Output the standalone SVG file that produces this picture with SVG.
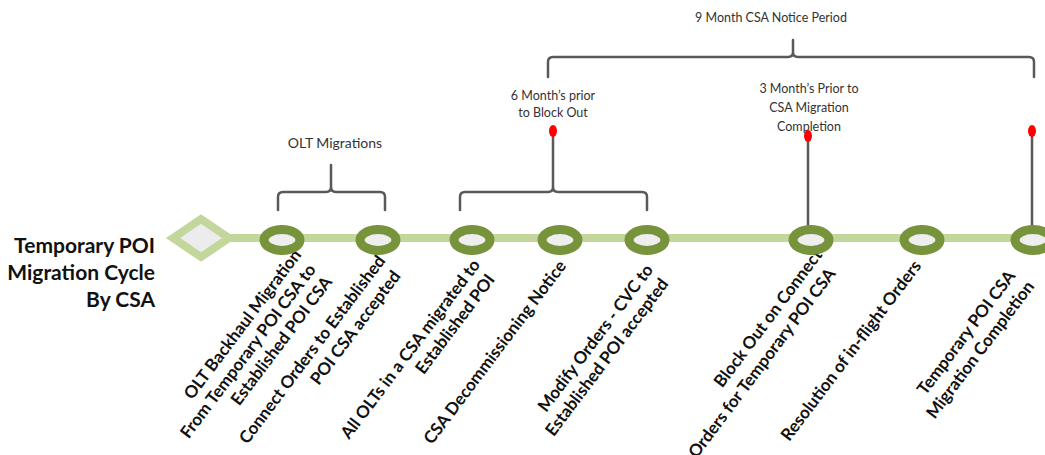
<svg xmlns="http://www.w3.org/2000/svg" width="1045" height="455" viewBox="0 0 1045 455">
<style>
.lbl{font-family:Lato,"Liberation Sans",sans-serif;font-weight:bold;font-size:17px;fill:#111;text-anchor:end}
.title{font-family:Lato,"Liberation Sans",sans-serif;font-weight:bold;font-size:21px;fill:#111;text-anchor:end}
.note{font-family:Lato,"Liberation Sans",sans-serif;font-size:12.5px;fill:#333;text-anchor:middle}
.ring{fill:#eeeeee;stroke:#77933c;stroke-width:9}
.br{fill:none;stroke:#595959;stroke-width:2.5;stroke-linecap:round;stroke-linejoin:round}
.dot{fill:#ff0000}
</style>
<rect width="1045" height="455" fill="#ffffff"/>
<g id="title"><text class="title"><tspan x="155" y="253">Temporary POI</tspan><tspan x="155" y="280">Migration  Cycle</tspan><tspan x="155" y="307">By CSA</tspan></text></g>
<g id="timeline">
<line x1="228" y1="238" x2="1045" y2="238" stroke="#c3d69b" stroke-width="8"/>
<polygon points="173,238 201,219 229,238 201,257" fill="#ececec" stroke="#c3d69b" stroke-width="8" stroke-linejoin="miter"/>
</g>
<g id="labels">
<g id="label1" transform="translate(298,252) rotate(-53)"><text class="lbl"><tspan x="0" y="5">OLT Backhaul  Migration</tspan><tspan x="-3" y="25.5">From Temporary POI CSA to</tspan><tspan x="-3" y="46">Established  POI CSA</tspan></text></g>
<g id="label2" transform="translate(382,258) rotate(-53)"><text class="lbl"><tspan x="0" y="5">Connect Orders to Established</tspan><tspan x="-3" y="26.5">POI CSA accepted</tspan></text></g>
<g id="label3" transform="translate(477,262) rotate(-53)"><text class="lbl"><tspan x="0" y="5">All OLTs in a CSA migrated to</tspan><tspan x="-3" y="25.5">Established  POI</tspan></text></g>
<g id="label4" transform="translate(563,263) rotate(-53)"><text class="lbl"><tspan x="0" y="5">CSA Decommissioning  Notice</tspan></text></g>
<g id="label5" transform="translate(650,267) rotate(-53)"><text class="lbl"><tspan x="0" y="5">Modify Orders -  CVC to</tspan><tspan x="-2" y="25.5">Established  POI accepted</tspan></text></g>
<g id="label6" transform="translate(819,252) rotate(-53)"><text class="lbl"><tspan x="0" y="5">Block  Out on Connect</tspan><tspan x="-7" y="27">Orders for Temporary POI CSA</tspan></text></g>
<g id="label7" transform="translate(918,263) rotate(-53)"><text class="lbl"><tspan x="0" y="5">Resolution of in-flight Orders</tspan></text></g>
<g id="label8" transform="translate(1012,273) rotate(-53)"><text class="lbl"><tspan x="0" y="5">Temporary POI CSA</tspan><tspan x="3" y="26.5">Migration  Completion</tspan></text></g>
</g>
<g id="connectors">
<path class="br" d="M278,210 L278,197 Q278,192 283,192 L326,192 Q331,192 331,187 L331,165 M331,187 Q331,192 336,192 L380,192 Q385,192 385,197 L385,210"/>
<path class="br" d="M460,210 L460,197 Q460,192 465,192 L548,192 Q553,192 553,187 L553,132 M553,187 Q553,192 558,192 L642,192 Q647,192 647,197 L647,210"/>
<path class="br" d="M548,77 L548,62 Q548,57 553,57 L788,57 Q793,57 793,52 L793,40 M793,52 Q793,57 798,57 L1029,57 Q1034,57 1034,62 L1034,77"/>
<line class="br" x1="808" y1="137" x2="808" y2="228"/>
<line class="br" x1="1032" y1="131" x2="1032" y2="228"/>
</g>
<g id="rings">
<ellipse id="n1" class="ring" cx="282" cy="240" rx="18" ry="10.5"/>
<ellipse id="n2" class="ring" cx="378" cy="240" rx="18" ry="10.5"/>
<ellipse id="n3" class="ring" cx="472" cy="240" rx="18" ry="10.5"/>
<ellipse id="n4" class="ring" cx="560" cy="240" rx="18" ry="10.5"/>
<ellipse id="n5" class="ring" cx="647" cy="240" rx="18" ry="10.5"/>
<ellipse id="n6" class="ring" cx="811" cy="240" rx="18" ry="10.5"/>
<ellipse id="n7" class="ring" cx="922" cy="240" rx="18" ry="10.5"/>
<ellipse id="n8" class="ring" cx="1033" cy="240" rx="18" ry="10.5"/>
</g>
<g id="notes">
<text class="note" x="771" y="22">9 Month CSA Notice Period</text>
<text class="note" x="335" y="148" style="font-size:14px">OLT Migrations</text>
<text class="note"><tspan x="553" y="100">6 Month’s prior</tspan><tspan x="553" y="117">to Block Out</tspan></text>
<text class="note"><tspan x="809" y="93">3 Month’s Prior to</tspan><tspan x="809" y="112">CSA Migration</tspan><tspan x="809" y="131">Completion</tspan></text>
</g>
<g id="markers">
<ellipse class="dot" cx="553" cy="131" rx="4" ry="6"/>
<ellipse class="dot" cx="808" cy="136" rx="4" ry="6"/>
<ellipse class="dot" cx="1032" cy="131" rx="4" ry="6"/>
</g>
</svg>
